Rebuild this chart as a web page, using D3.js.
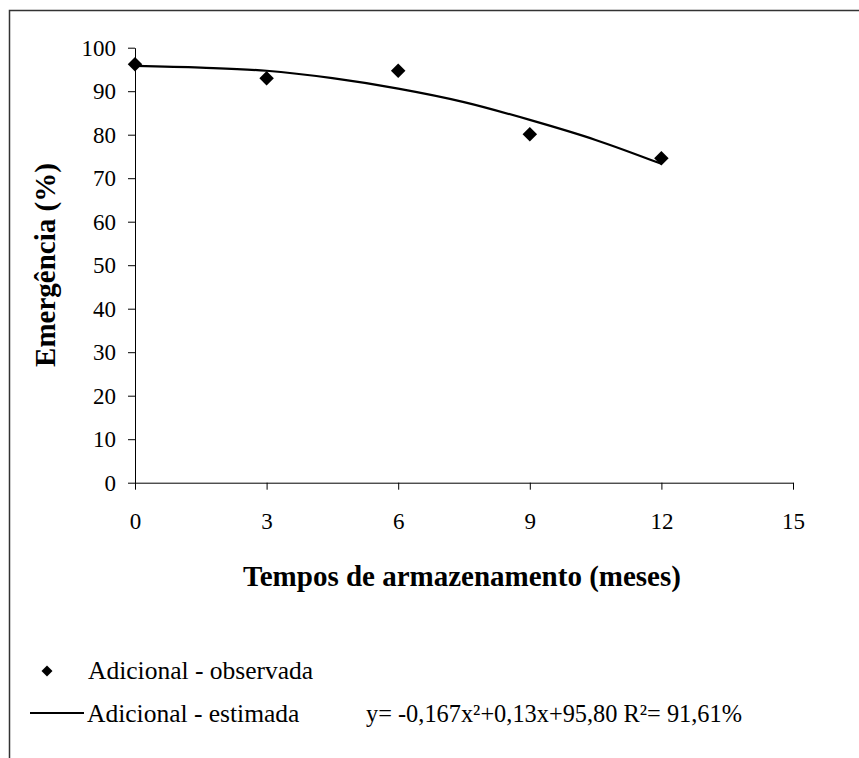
<!DOCTYPE html>
<html>
<head>
<meta charset="utf-8">
<script src="https://cdn.jsdelivr.net/npm/d3@7"></script>
<style>
  html, body { margin: 0; padding: 0; background: #fff; }
  svg { display: block; }
</style>
</head>
<body>
<svg id="chart" width="859" height="758"></svg>
<script>
// ---- data ----
const months = [0, 3, 6, 9, 12];
const observed = [96.2, 93.0, 94.7, 80.1, 74.6];
const estX = [0, 1.5, 3, 4.5, 6, 7.5, 9, 10.5, 12];
const estY = [95.8, 95.4, 94.7, 93.0, 90.6, 87.5, 83.4, 78.8, 73.3];
const xTicks = [0, 3, 6, 9, 12, 15];
const yTicks = [0, 10, 20, 30, 40, 50, 60, 70, 80, 90, 100];
const xTitle = "Tempos de armazenamento (meses)";
const yTitle = "Emergência (%)";
const legendObs = "Adicional - observada";
const legendEst = "Adicional - estimada";
const equation = "y= -0,167x²+0,13x+95,80  R²= 91,61%";

const FONT = "Liberation Serif";

const svg = d3.select("#chart");

// frame (left + top edges visible)
svg.append("path")
  .attr("d", "M9.5,758 V10.5 H859")
  .attr("fill", "none").attr("stroke", "#333").attr("stroke-width", 1.5);

const x = d3.scaleLinear().domain([0, 15]).range([135, 793]);
const y = d3.scaleLinear().domain([0, 100]).range([482.7, 47.7]);

// y axis
const yAxis = d3.axisLeft(y).tickValues(yTicks).tickSize(7).tickSizeOuter(0).tickPadding(12);
const gy = svg.append("g").attr("transform", `translate(${x(0)},0)`).call(yAxis)
  .attr("font-family", FONT).attr("font-size", 23);
gy.select(".domain").attr("stroke", "#000").attr("stroke-width", 1);
gy.selectAll(".tick line").attr("stroke", "#000");
gy.selectAll(".tick text").attr("fill", "#000");

// x axis
const xAxis = d3.axisBottom(x).tickValues(xTicks).tickSize(7).tickSizeOuter(0).tickPadding(23);
const gx = svg.append("g").attr("transform", `translate(0,${y(0)})`).call(xAxis)
  .attr("font-family", FONT).attr("font-size", 23);
gx.select(".domain").attr("stroke", "#000").attr("stroke-width", 1);
gx.selectAll(".tick line").attr("stroke", "#000");
gx.selectAll(".tick text").attr("fill", "#000");

// estimated curve
const line = d3.line().x((d, i) => x(estX[i])).y(d => y(d)).curve(d3.curveMonotoneX);
svg.append("path").datum(estY)
  .attr("d", line)
  .attr("fill", "none").attr("stroke", "#000").attr("stroke-width", 2.2);

// observed points (diamonds)
const diamond = d3.symbol().type(d3.symbolSquare).size(105);
svg.selectAll(".pt").data(observed).enter().append("path")
  .attr("class", "pt")
  .attr("d", diamond)
  .attr("transform", (d, i) => `translate(${x(months[i])},${y(d)}) rotate(45)`)
  .attr("fill", "#000");

// axis titles
svg.append("text")
  .attr("x", 462).attr("y", 586)
  .attr("text-anchor", "middle")
  .attr("font-family", FONT).attr("font-size", 29).attr("font-weight", "bold")
  .text(xTitle);

svg.append("text")
  .attr("transform", "translate(55,265) rotate(-90)")
  .attr("text-anchor", "middle")
  .attr("font-family", FONT).attr("font-size", 29).attr("font-weight", "bold")
  .text(yTitle);

// legend
const lg = svg.append("g");
lg.append("path")
  .attr("d", d3.symbol().type(d3.symbolSquare).size(60))
  .attr("transform", "translate(47,671) rotate(45)")
  .attr("fill", "#000");
lg.append("text").attr("x", 88).attr("y", 679)
  .attr("font-family", FONT).attr("font-size", 25.5).text(legendObs);

lg.append("line")
  .attr("x1", 30).attr("x2", 84).attr("y1", 713).attr("y2", 713)
  .attr("stroke", "#000").attr("stroke-width", 2);
lg.append("text").attr("x", 87).attr("y", 722)
  .attr("font-family", FONT).attr("font-size", 25.5).text(legendEst);
lg.append("text").attr("x", 366).attr("y", 722)
  .attr("font-family", FONT).attr("font-size", 25.5)
  .attr("textLength", 376).attr("lengthAdjust", "spacingAndGlyphs")
  .text(equation);
</script>
</body>
</html>
